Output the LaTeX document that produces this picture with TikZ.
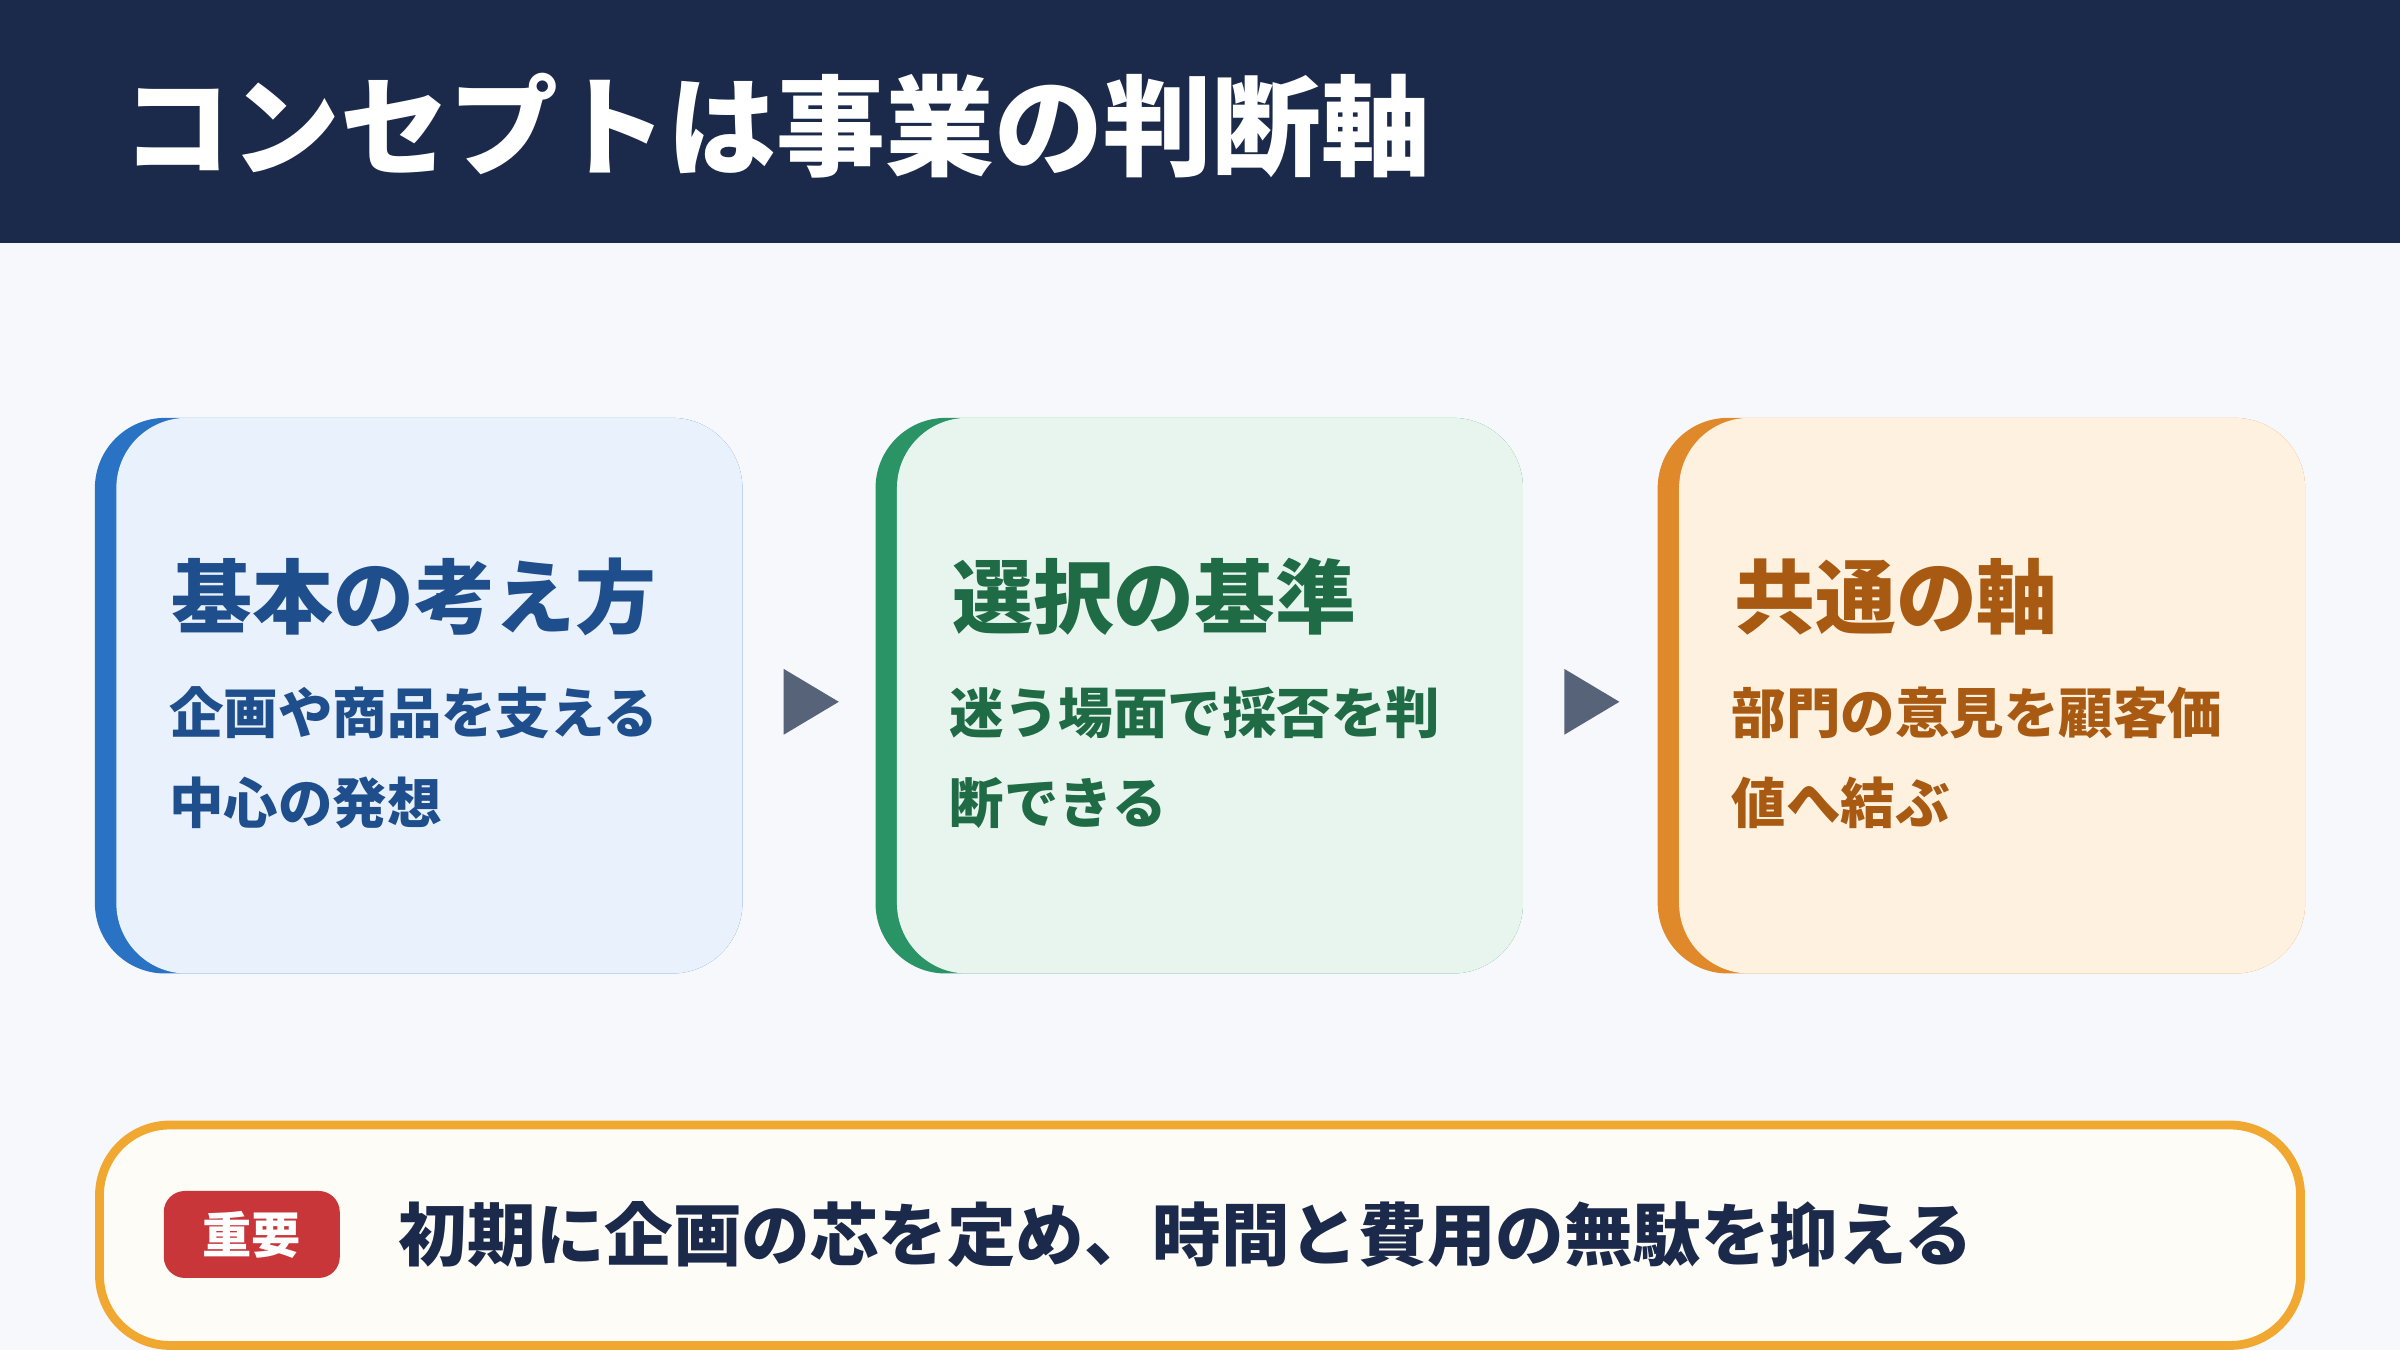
\documentclass[tikz,border=0pt]{standalone}
\usepackage{fontspec}
\setmainfont{Noto Sans CJK JP}
\usetikzlibrary{positioning}
\definecolor{navy}{HTML}{1B2A4A}
\definecolor{pagebg}{HTML}{F6F8FC}
\definecolor{blueBar}{HTML}{2A72C4}\definecolor{blueFill}{HTML}{E8F1FC}\definecolor{blueText}{HTML}{1F4E8C}
\definecolor{greenBar}{HTML}{2A9466}\definecolor{greenFill}{HTML}{E8F5EE}\definecolor{greenText}{HTML}{1E6B45}
\definecolor{orangeBar}{HTML}{E0892A}\definecolor{orangeFill}{HTML}{FEF1DF}\definecolor{orangeText}{HTML}{A85A12}
\definecolor{arrowGray}{HTML}{566378}
\definecolor{noteBorder}{HTML}{F0A830}\definecolor{noteFill}{HTML}{FEFCF6}
\definecolor{badgeRed}{HTML}{C9363A}
\tikzset{
  card title/.style={anchor=west, font=\bfseries\fontsize{23}{28}\selectfont},
  card body/.style={anchor=north west, align=left, inner sep=0pt, font=\bfseries\fontsize{15.5}{25.7}\selectfont},
  step arrow/.style={fill=arrowGray, draw=none}
}
\begin{document}
\begin{tikzpicture}[x=0.015306cm, y=-0.015306cm]
  \useasboundingbox (0,0) rectangle (1568,882);
  \fill[pagebg] (0,0) rectangle (1568,882);
  % Header
  \fill[navy] (0,0) rectangle (1568,159);
  \node[anchor=west, text=white, font=\bfseries\fontsize{31}{36}\selectfont] (title) at (72,82) {コンセプトは事業の判断軸};

  % Cards
  \foreach \x/\c/\ttl/\bdy [count=\i] in {
      62/blue/基本の考え方/{企画や商品を支える\\中心の発想},
      572/green/選択の基準/{迷う場面で採否を判\\断できる},
      1083/orange/共通の軸/{部門の意見を顧客価\\値へ結ぶ}} {
    \fill[\c Bar, rounded corners=20] (\x,273) rectangle ++(423,363);
    \fill[\c Fill, rounded corners=20] (\x+14,273) rectangle ++(409,363);
    \node[card title, text=\c Text] (card\i) at (\x+42,390) {\ttl};
    \node[card body, text=\c Text] (body\i) at (\x+48,448) {\bdy};
  }

  % Arrows between cards
  \fill[step arrow] (512,437) -- (548,458.5) -- (512,480) -- cycle;
  \fill[step arrow] (1022,437) -- (1058,458.5) -- (1022,480) -- cycle;

  % Note
  \draw[noteBorder, fill=noteFill, line width=2.5pt, rounded corners=20] (65,735) rectangle (1503,879);
  \node[fill=badgeRed, text=white, rounded corners=6, minimum width=1.76cm, minimum height=0.87cm,
        font=\bfseries\fontsize{14}{16}\selectfont] (badge) at (164.5,806.5) {重要};
  \node[right=0.46cm of badge, text=navy, font=\bfseries\fontsize{19.5}{24}\selectfont] (note) {初期に企画の芯を定め、時間と費用の無駄を抑える};
\end{tikzpicture}
\end{document}
